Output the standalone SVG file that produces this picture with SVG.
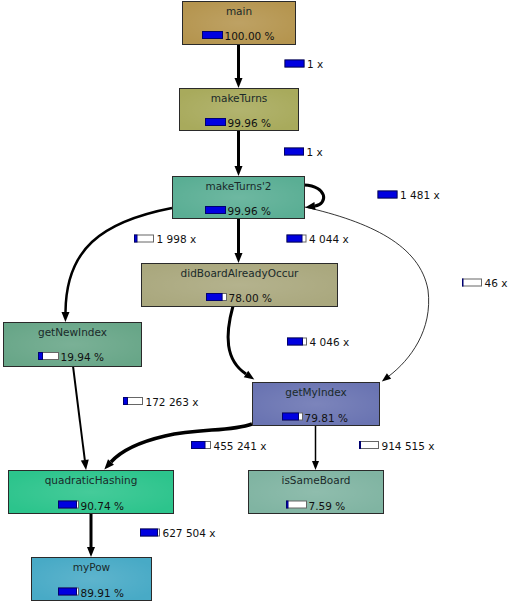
<svg xmlns="http://www.w3.org/2000/svg" width="512" height="601" viewBox="0 0 512 601">
<style>
.node rect.box{stroke:#2a2a2a;stroke-width:1}
text{font-family:"DejaVu Sans","Liberation Sans",sans-serif;font-size:10.5px;fill:#111}
.name{text-anchor:middle;fill:#1a2a2a}
.bw{fill:#fff;stroke:#666;stroke-width:1}
.bb{fill:#0000e0;stroke:#000070;stroke-width:1}
.e{fill:none;stroke:#000}
</style>
<defs>
<marker id="ah" markerUnits="userSpaceOnUse" markerWidth="12" markerHeight="10" refX="0" refY="4" orient="auto" overflow="visible">
<path d="M0,0 L10,4 L0,8 z" fill="#000"/>
</marker>
<marker id="ahs" markerUnits="userSpaceOnUse" markerWidth="12" markerHeight="10" refX="0" refY="3.5" orient="auto" overflow="visible">
<path d="M0,0 L9,3.5 L0,7 z" fill="#000"/>
</marker>
<radialGradient id="shine" cx="0.5" cy="0.5" r="0.6">
<stop offset="0" stop-color="#fff" stop-opacity="0.12"/>
<stop offset="1" stop-color="#fff" stop-opacity="0"/>
</radialGradient>
</defs>
<rect width="512" height="601" fill="#fff"/>

<g id="connectors">
<path class="e" stroke-width="3" d="M238.5,44 L238.5,78" marker-end="url(#ah)"/>
<path class="e" stroke-width="3" d="M238.5,130 L238.5,166" marker-end="url(#ah)"/>
<path class="e" stroke-width="3" d="M304,185 C328,186 328,204 315,206" marker-end="url(#ah)"/>
<path class="e" stroke-width="3" d="M238.5,218 L238.5,253" marker-end="url(#ah)"/>
<path class="e" stroke-width="2.5" d="M172,208 C100,222 66,250 65.5,312" marker-end="url(#ah)"/>
<path class="e" stroke-width="0.8" d="M305,207 C370,222 420,245 428,290 C433,330 410,360 389,376" marker-end="url(#ahs)"/>
<path class="e" stroke-width="3" d="M233,306 C225,335 225,360 246,374" marker-end="url(#ah)"/>
<path class="e" stroke-width="2" d="M73,366 L84.8,460" marker-end="url(#ah)"/>
<path class="e" stroke-width="3.5" d="M252,424 C230,432 200,428 165,436 C135,443 120,452 111,462" marker-end="url(#ah)"/>
<path class="e" stroke-width="1.5" d="M315.5,425 L315.5,461" marker-end="url(#ahs)"/>
<path class="e" stroke-width="3" d="M91,513 L91,547" marker-end="url(#ah)"/>
</g>

<g id="edge-labels">
<rect class="bw" x="285" y="60" width="19" height="7"/><rect class="bb" x="285" y="60" width="19" height="7"/><text x="307" y="68">1 x</text>
<rect class="bw" x="284.5" y="148" width="19" height="7"/><rect class="bb" x="284.5" y="148" width="19" height="7"/><text x="306.5" y="156">1 x</text>
<rect class="bw" x="378" y="191" width="19" height="7"/><rect class="bb" x="378" y="191" width="19" height="7"/><text x="400" y="199">1 481 x</text>
<rect class="bw" x="134.5" y="235" width="19" height="7"/><rect class="bb" x="134.5" y="235" width="2.5" height="7"/><text x="156.5" y="243">1 998 x</text>
<rect class="bw" x="287" y="235" width="19" height="7"/><rect class="bb" x="287" y="235" width="15" height="7"/><text x="309" y="243">4 044 x</text>
<rect class="bw" x="462.5" y="279" width="19" height="7"/><rect class="bb" x="462.5" y="279" width="0.5" height="7"/><text x="484.5" y="287">46 x</text>
<rect class="bw" x="287.5" y="338" width="19" height="7"/><rect class="bb" x="287.5" y="338" width="15" height="7"/><text x="309.5" y="346">4 046 x</text>
<rect class="bw" x="123.5" y="397.5" width="19" height="7"/><rect class="bb" x="123.5" y="397.5" width="4" height="7"/><text x="145.5" y="405.5">172 263 x</text>
<rect class="bw" x="191.5" y="441.5" width="19" height="7"/><rect class="bb" x="191.5" y="441.5" width="13.5" height="7"/><text x="213.5" y="449.5">455 241 x</text>
<rect class="bw" x="359.5" y="441.5" width="19" height="7"/><rect class="bb" x="359.5" y="441.5" width="1" height="7"/><text x="381.5" y="449.5">914 515 x</text>
<rect class="bw" x="140.5" y="529" width="19" height="7"/><rect class="bb" x="140.5" y="529" width="17" height="7"/><text x="162.5" y="537">627 504 x</text>
</g>

<g id="main" class="node">
<rect class="box" x="182.5" y="1.5" width="113" height="43" fill="#b5954f"/><rect x="183" y="2" width="112" height="42" fill="url(#shine)"/>
<text class="name" x="239" y="14.5">main</text>
<rect class="bw" x="202.5" y="31.5" width="20" height="7"/><rect class="bb" x="202.5" y="31.5" width="20" height="7"/><text x="224.5" y="40">100.00 %</text>
</g>
<g id="makeTurns" class="node">
<rect class="box" x="179.5" y="88.5" width="119" height="42" fill="#a8aa5c"/><rect x="180" y="89" width="118" height="41" fill="url(#shine)"/>
<text class="name" x="239" y="101.5">makeTurns</text>
<rect class="bw" x="205.5" y="118.5" width="20" height="7"/><rect class="bb" x="205.5" y="118.5" width="20" height="7"/><text x="227.5" y="127">99.96 %</text>
</g>
<g id="makeTurns2" class="node">
<rect class="box" x="172.5" y="176.5" width="132" height="42" fill="#5aae94"/><rect x="173" y="177" width="131" height="41" fill="url(#shine)"/>
<text class="name" x="238.5" y="189.5">makeTurns'2</text>
<rect class="bw" x="205.5" y="206.5" width="20" height="7"/><rect class="bb" x="205.5" y="206.5" width="20" height="7"/><text x="227.5" y="215">99.96 %</text>
</g>
<g id="didBoardAlreadyOccur" class="node">
<rect class="box" x="141.5" y="263.5" width="196" height="43" fill="#aaa87e"/><rect x="142" y="264" width="195" height="42" fill="url(#shine)"/>
<text class="name" x="239.5" y="276.5">didBoardAlreadyOccur</text>
<rect class="bw" x="206.5" y="293.5" width="20" height="7"/><rect class="bb" x="206.5" y="293.5" width="15.6" height="7"/><text x="228.5" y="302">78.00 %</text>
</g>
<g id="getNewIndex" class="node">
<rect class="box" x="3.5" y="322.5" width="138" height="44" fill="#68a688"/><rect x="4" y="323" width="137" height="43" fill="url(#shine)"/>
<text class="name" x="72.5" y="335.5">getNewIndex</text>
<rect class="bw" x="38.5" y="352.5" width="20" height="7"/><rect class="bb" x="38.5" y="352.5" width="4" height="7"/><text x="60.5" y="361">19.94 %</text>
</g>
<g id="getMyIndex" class="node">
<rect class="box" x="252.5" y="382.5" width="127" height="43" fill="#6a74b2"/><rect x="253" y="383" width="126" height="42" fill="url(#shine)"/>
<text class="name" x="316" y="395.5">getMyIndex</text>
<rect class="bw" x="282.5" y="413" width="20" height="7"/><rect class="bb" x="282.5" y="413" width="16" height="7"/><text x="304.5" y="421.5">79.81 %</text>
</g>
<g id="quadraticHashing" class="node">
<rect class="box" x="8.5" y="470.5" width="165" height="43" fill="#2cc48c"/><rect x="9" y="471" width="164" height="42" fill="url(#shine)"/>
<text class="name" x="91" y="483.5">quadraticHashing</text>
<rect class="bw" x="58.5" y="501" width="20" height="7"/><rect class="bb" x="58.5" y="501" width="18" height="7"/><text x="80.5" y="509.5">90.74 %</text>
</g>
<g id="isSameBoard" class="node">
<rect class="box" x="248.5" y="470.5" width="135" height="43" fill="#80b4a2"/><rect x="249" y="471" width="134" height="42" fill="url(#shine)"/>
<text class="name" x="316" y="483.5">isSameBoard</text>
<rect class="bw" x="286.5" y="501" width="20" height="7"/><rect class="bb" x="286.5" y="501" width="1.5" height="7"/><text x="308.5" y="509.5">7.59 %</text>
</g>
<g id="myPow" class="node">
<rect class="box" x="31.5" y="557.5" width="120" height="43" fill="#48aac6"/><rect x="32" y="558" width="119" height="42" fill="url(#shine)"/>
<text class="name" x="91.5" y="570.5">myPow</text>
<rect class="bw" x="58.5" y="588" width="20" height="7"/><rect class="bb" x="58.5" y="588" width="18" height="7"/><text x="80.5" y="596.5">89.91 %</text>
</g>
</svg>
